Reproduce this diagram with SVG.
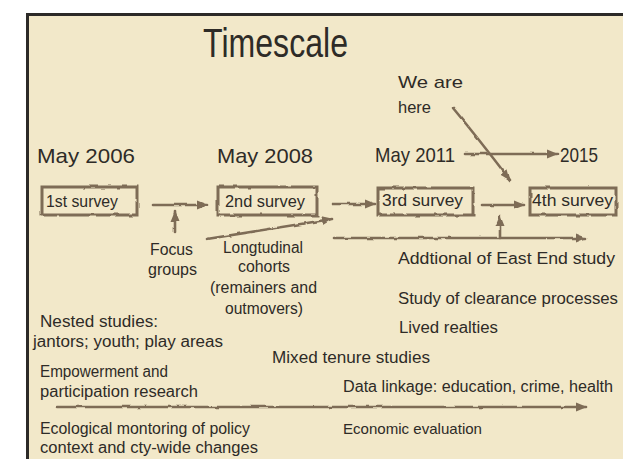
<svg xmlns="http://www.w3.org/2000/svg" width="623" height="459" viewBox="0 0 623 459">
<defs>
<style>
.t{font-family:"Liberation Sans",Arial,sans-serif;fill:#2e2b27;font-size:16px}
.d{font-size:21px}
.h{font-size:41px}
.w{font-size:17px}
.s{font-size:14.5px}
.c{fill:none;stroke:#7e6c57;stroke-width:2.6;stroke-linecap:round}
.b{fill:none;stroke:#7e6c57;stroke-width:3}
</style>
<filter id="rough" filterUnits="userSpaceOnUse" x="0" y="0" width="623" height="459">
<feTurbulence type="fractalNoise" baseFrequency="0.09" numOctaves="2" seed="4"/>
<feDisplacementMap in="SourceGraphic" scale="2.8" xChannelSelector="R" yChannelSelector="G"/>
</filter>
<marker id="ah" markerUnits="userSpaceOnUse" markerWidth="11" markerHeight="10" refX="10" refY="5" orient="auto">
<path d="M0,0.5 L11,5 L0,9.5 z" fill="#7e6c57"/>
</marker>
</defs>
<rect x="0" y="0" width="623" height="459" fill="#ffffff"/>
<rect x="27.5" y="14.5" width="620" height="460" fill="#f2e8c9" stroke="#2c2a28" stroke-width="3"/>
<g id="title"><text class="t h" x="203" y="57" textLength="145" lengthAdjust="spacingAndGlyphs">Timescale</text></g>
<g id="we-are-here"><text class="t w" x="398" y="88" textLength="65" lengthAdjust="spacingAndGlyphs">We are</text><text class="t w" x="398" y="113" textLength="33" lengthAdjust="spacingAndGlyphs">here</text></g>
<g id="date-2006"><text class="t d" x="37" y="163" textLength="98" lengthAdjust="spacingAndGlyphs">May 2006</text></g>
<g id="date-2008"><text class="t d" x="217" y="163" textLength="96" lengthAdjust="spacingAndGlyphs">May 2008</text></g>
<g id="date-2011"><text class="t d" x="375" y="162" textLength="80" lengthAdjust="spacingAndGlyphs">May 2011</text></g>
<g id="date-2015"><text class="t d" x="560" y="162" textLength="38" lengthAdjust="spacingAndGlyphs">2015</text></g>
<g id="survey1"><rect class="b" x="42" y="187" width="95" height="28" filter="url(#rough)"/><text class="t" x="46" y="207" textLength="72" lengthAdjust="spacingAndGlyphs">1st survey</text></g>
<g id="survey2"><rect class="b" x="218" y="187" width="99" height="28" filter="url(#rough)"/><text class="t" x="225" y="207" textLength="80" lengthAdjust="spacingAndGlyphs">2nd survey</text></g>
<g id="survey3"><rect class="b" x="378" y="188" width="95" height="27" filter="url(#rough)"/><text class="t" x="382" y="206" textLength="81" lengthAdjust="spacingAndGlyphs">3rd survey</text></g>
<g id="survey4"><rect class="b" x="530" y="188" width="86" height="27" filter="url(#rough)"/><text class="t" x="532" y="206" textLength="81" lengthAdjust="spacingAndGlyphs">4th survey</text></g>
<g id="focus-groups"><text class="t" x="150" y="255" textLength="43" lengthAdjust="spacingAndGlyphs">Focus</text><text class="t" x="148" y="275" textLength="49" lengthAdjust="spacingAndGlyphs">groups</text></g>
<g id="longitudinal"><text class="t" x="223" y="253" textLength="80" lengthAdjust="spacingAndGlyphs">Longtudinal</text><text class="t" x="238" y="272" textLength="52" lengthAdjust="spacingAndGlyphs">cohorts</text><text class="t" x="210" y="293" textLength="107" lengthAdjust="spacingAndGlyphs">(remainers and</text><text class="t" x="225" y="314" textLength="78" lengthAdjust="spacingAndGlyphs">outmovers)</text></g>
<g id="nested"><text class="t" x="40" y="327" textLength="118" lengthAdjust="spacingAndGlyphs">Nested studies:</text><text class="t" x="33" y="347" textLength="190" lengthAdjust="spacingAndGlyphs">jantors; youth; play areas</text></g>
<g id="empowerment"><text class="t" x="40" y="377" textLength="128" lengthAdjust="spacingAndGlyphs">Empowerment and</text><text class="t" x="40" y="397" textLength="158" lengthAdjust="spacingAndGlyphs">participation research</text></g>
<g id="ecological"><text class="t" x="40" y="434" textLength="210" lengthAdjust="spacingAndGlyphs">Ecological montoring of policy</text><text class="t" x="40" y="453" textLength="218" lengthAdjust="spacingAndGlyphs">context and cty-wide changes</text></g>
<g id="mixed"><text class="t" x="272" y="363" textLength="158" lengthAdjust="spacingAndGlyphs">Mixed tenure studies</text></g>
<g id="east-end"><text class="t" x="398" y="264" textLength="217" lengthAdjust="spacingAndGlyphs">Addtional of East End study</text></g>
<g id="clearance"><text class="t" x="398" y="304" textLength="220" lengthAdjust="spacingAndGlyphs">Study of clearance processes</text></g>
<g id="lived"><text class="t" x="399" y="333" textLength="99" lengthAdjust="spacingAndGlyphs">Lived realties</text></g>
<g id="data-linkage"><text class="t" x="343" y="392" textLength="270" lengthAdjust="spacingAndGlyphs">Data linkage: education, crime, health</text></g>
<g id="economic"><text class="t s" x="343" y="434" textLength="139" lengthAdjust="spacingAndGlyphs">Economic evaluation</text></g>
<g id="connectors" filter="url(#rough)">
<path class="c" d="M465,154 L557,154" marker-end="url(#ah)"/>
<path class="c" d="M453,108 Q478,138 510,180" marker-end="url(#ah)"/>
<path class="c" d="M153,205 L207,205" marker-end="url(#ah)"/>
<path class="c" d="M175,232 L175,211" marker-end="url(#ah)"/>
<path class="c" d="M332,204 L375,204" marker-end="url(#ah)"/>
<path class="c" d="M207,239 L332,219" marker-end="url(#ah)"/>
<path class="c" d="M482,205 L524,205" marker-end="url(#ah)"/>
<path class="c" d="M333,238 L586,238" marker-end="url(#ah)"/>
<path class="c" d="M500,238 L500,216" marker-end="url(#ah)"/>
<path class="c" d="M57,407 L586,407" marker-end="url(#ah)"/>
</g>
</svg>
